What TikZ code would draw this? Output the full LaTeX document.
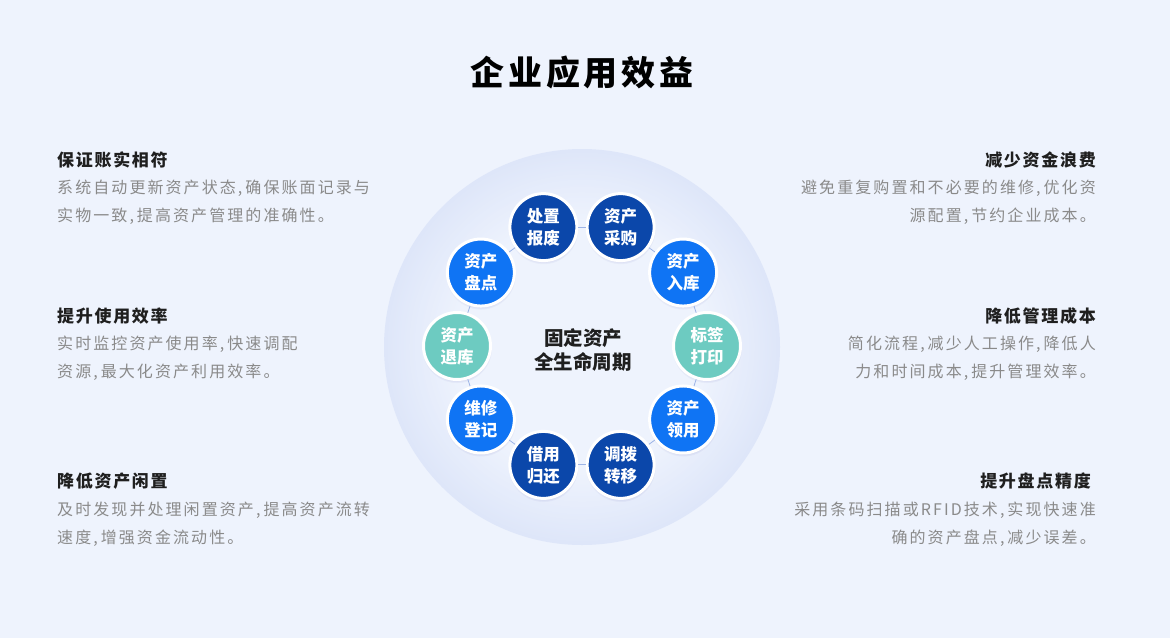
\documentclass[tikz,border=0pt]{standalone}
\usepackage{fontspec}
\setmainfont{Noto Sans CJK SC}
\usetikzlibrary{shadows}
\definecolor{bg}{HTML}{EEF3FD}
\definecolor{ringc}{HTML}{DEE6F9}
\definecolor{navy}{HTML}{0B47AA}
\definecolor{bright}{HTML}{0F74F4}
\definecolor{teal}{HTML}{6DCBC1}
\definecolor{headc}{HTML}{1F1F1F}
\definecolor{bodyc}{HTML}{8A8A8A}
\definecolor{connc}{HTML}{9DB4E6}
\newcommand\cmm{,\kern3pt}
\begin{document}
\begin{tikzpicture}[x=1pt,y=-1pt,
  stage/.style={circle, draw=white, line width=3pt, minimum size=67pt, inner sep=0pt,
    text=white, align=center, font=\bfseries\fontsize{16.5}{22}\selectfont,
    circular drop shadow={shadow xshift=0pt, shadow yshift=-2pt, opacity=0.14, fill=blue!50!black, shadow scale=1.05}},
  navystage/.style={stage, fill=navy},
  brightstage/.style={stage, fill=bright},
  tealstage/.style={stage, fill=teal},
  conn/.style={draw=connc, line width=0.8pt},
  headl/.style={anchor=west, inner sep=0pt, text=headc, font=\bfseries\fontsize{17}{20}\selectfont\addfontfeature{LetterSpace=10}},
  headr/.style={anchor=east, inner sep=0pt, text=headc, font=\bfseries\fontsize{17}{20}\selectfont\addfontfeature{LetterSpace=10}},
  bodyl/.style={anchor=west, inner sep=0pt, text=bodyc, font=\fontsize{16}{20}\selectfont\addfontfeature{LetterSpace=13}},
  bodyr/.style={anchor=east, inner sep=0pt, text=bodyc, font=\fontsize{16}{20}\selectfont\addfontfeature{LetterSpace=13}},
]
\fill[bg] (0,0) rectangle (1170,638);
\useasboundingbox (0,0) rectangle (1170,638);

% title
\node[inner sep=0pt, text=black, font=\bfseries\fontsize{34}{40}\selectfont\addfontfeature{LetterSpace=11}] (title) at (582,73) {企业应用效益};

% big background disk (soft radial fade)
\foreach \i in {0,...,40}{
  \pgfmathsetmacro\pc{100-\i*2.5}
  \fill[ringc!\pc!bg] (582,347) circle[radius={198-\i*1.8}];
}

% center text
\node[inner sep=0pt, align=center, text=headc, font=\bfseries\fontsize{19.5}{24}\selectfont] (center) at (583,350) {固定资产\\全生命周期};

% stages
\node[tealstage]   (s0)   at ({582+125*cos(0)},{346-125*sin(0)}) {标签\\打印};
\node[brightstage] (s36)  at ({582+125*cos(36)},{346-125*sin(36)}) {资产\\入库};
\node[navystage]   (s72)  at ({582+125*cos(72)},{346-125*sin(72)}) {资产\\采购};
\node[navystage]   (s108) at ({582+125*cos(108)},{346-125*sin(108)}) {处置\\报废};
\node[brightstage] (s144) at ({582+125*cos(144)},{346-125*sin(144)}) {资产\\盘点};
\node[tealstage]   (s180) at ({582+125*cos(180)},{346-125*sin(180)}) {资产\\退库};
\node[brightstage] (s216) at ({582+125*cos(216)},{346-125*sin(216)}) {维修\\登记};
\node[navystage]   (s252) at ({582+125*cos(252)},{346-125*sin(252)}) {借用\\归还};
\node[navystage]   (s288) at ({582+125*cos(288)},{346-125*sin(288)}) {调拨\\转移};
\node[brightstage] (s324) at ({582+125*cos(324)},{346-125*sin(324)}) {资产\\领用};

\draw[conn] (s0) -- (s36);
\draw[conn] (s36) -- (s72);
\draw[conn] (s72) -- (s108);
\draw[conn] (s108) -- (s144);
\draw[conn] (s144) -- (s180);
\draw[conn] (s180) -- (s216);
\draw[conn] (s216) -- (s252);
\draw[conn] (s252) -- (s288);
\draw[conn] (s288) -- (s324);
\draw[conn] (s324) -- (s0);

% left blocks
\node[headl] (l1h) at (57,160) {保证账实相符};
\node[bodyl] (l1a) at (57,188) {系统自动更新资产状态\cmm 确保账面记录与};
\node[bodyl] (l1b) at (57,216) {实物一致\cmm 提高资产管理的准确性。};

\node[headl] (l2h) at (57,316) {提升使用效率};
\node[bodyl] (l2a) at (57,344) {实时监控资产使用率\cmm 快速调配};
\node[bodyl] (l2b) at (57,372) {资源\cmm 最大化资产利用效率。};

\node[headl] (l3h) at (57,481) {降低资产闲置};
\node[bodyl] (l3a) at (57,510) {及时发现并处理闲置资产\cmm 提高资产流转};
\node[bodyl] (l3b) at (57,538) {速度\cmm 增强资金流动性。};

% right blocks
\node[headr] (r1h) at (1096,160) {减少资金浪费};
\node[bodyr] (r1a) at (1096,188) {避免重复购置和不必要的维修\cmm 优化资};
\node[bodyr] (r1b) at (1096,216) {源配置\cmm 节约企业成本。};

\node[headr] (r2h) at (1096,316) {降低管理成本};
\node[bodyr] (r2a) at (1096,344) {简化流程\cmm 减少人工操作\cmm 降低人};
\node[bodyr] (r2b) at (1096,372) {力和时间成本\cmm 提升管理效率。};

\node[headr] (r3h) at (1091,481) {提升盘点精度};
\node[bodyr] (r3a) at (1096,510) {采用条码扫描或RFID技术\cmm 实现快速准};
\node[bodyr] (r3b) at (1096,538) {确的资产盘点\cmm 减少误差。};
\end{tikzpicture}
\end{document}
